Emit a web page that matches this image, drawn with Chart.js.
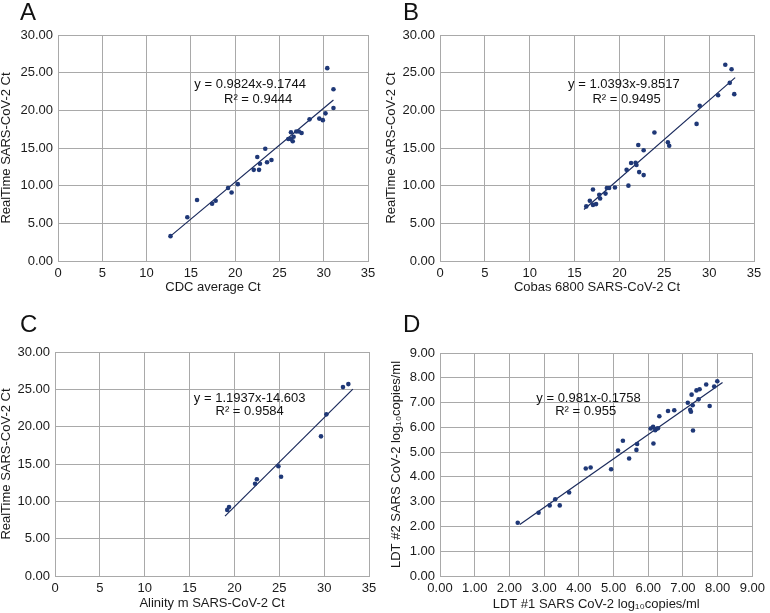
<!DOCTYPE html>
<html>
<head>
<meta charset="utf-8">
<script src="https://cdn.jsdelivr.net/npm/chart.js@4.4.1/dist/chart.umd.min.js"></script>
<style>
    body { margin: 0; background: #fff; }
    #wrap { position: relative; width: 770px; height: 613px; overflow: hidden; }
    #wrap canvas { position: absolute; }
    .letter { position: absolute; font: 24px "Liberation Sans", Arial, sans-serif; line-height: 24px; color: #111; }
</style>
</head>
<body>
<div id="wrap">
    <canvas id="chart-A" width="385" height="300" style="left:0;top:0"></canvas>
    <canvas id="chart-B" width="385" height="300" style="left:385px;top:0"></canvas>
    <canvas id="chart-C" width="385" height="313" style="left:0;top:300px"></canvas>
    <canvas id="chart-D" width="385" height="313" style="left:385px;top:300px"></canvas>
    <div class="letter" style="left:20px;top:0">A</div>
    <div class="letter" style="left:403px;top:0">B</div>
    <div class="letter" style="left:20px;top:312px">C</div>
    <div class="letter" style="left:403px;top:312px">D</div>
</div>
<script>
// Panel A: CDC average Ct vs RealTime
var cdcCt = [12.7, 14.6, 15.7, 17.4, 17.8, 19.2, 19.6, 20.3, 22.1, 22.7, 22.5, 22.8, 23.4, 23.6, 24.1, 26.0, 26.3, 26.5, 26.6, 26.3, 26.9, 27.2, 27.5, 28.4, 29.5, 29.9, 30.2, 30.4, 31.1, 31.1];
var realtimeA = [3.3, 5.8, 8.1, 7.6, 8.0, 9.7, 9.1, 10.2, 12.1, 12.1, 13.8, 12.9, 14.9, 13.1, 13.4, 16.2, 16.2, 15.9, 16.5, 17.1, 17.2, 17.2, 17.0, 18.8, 18.9, 18.7, 19.6, 25.6, 22.8, 20.3];
var fitA = [0.9824, -9.1744, 12.7, 31.1];   // slope, intercept, x from, x to
var eqA = ['y = 0.9824x-9.1744', 'R\u00b2 = 0.9444'];

// Panel B: Cobas 6800 vs RealTime
var cobasCt = [31.8, 32.5, 32.3, 32.8, 31.0, 28.95, 28.6, 23.9, 25.4, 25.55, 22.1, 22.7, 20.8, 21.3, 21.8, 21.9, 22.2, 22.7, 21.0, 19.5, 18.6, 18.85, 18.45, 17.75, 17.85, 17.05, 16.7, 16.3, 17.05, 17.4];
var realtimeB = [26.05, 25.45, 23.65, 22.15, 22.0, 20.6, 18.2, 17.05, 15.75, 15.3, 15.4, 14.7, 12.1, 13.0, 13.05, 12.75, 11.8, 11.4, 10.0, 9.75, 9.7, 9.7, 8.95, 8.8, 8.3, 9.5, 8.0, 7.25, 7.45, 7.55];
var fitB = [1.0393, -9.8517, 16.05, 32.9];
var eqB = ['y = 1.0393x-9.8517', 'R\u00b2 = 0.9495'];

// Panel C: Alinity m vs RealTime
var alinityCt = [19.2, 19.4, 22.3, 22.5, 24.9, 25.2, 29.65, 30.25, 32.1, 32.7];
var realtimeC = [8.85, 9.25, 12.35, 12.95, 14.7, 13.3, 18.7, 21.65, 25.3, 25.7];
var fitC = [1.1937, -14.603, 18.95, 33.2];
var eqC = ['y = 1.1937x-14.603', 'R\u00b2 = 0.9584'];

// Panel D: LDT #1 vs LDT #2 (log10 copies/ml)
var ldt1 = [2.24, 2.84, 3.16, 3.32, 3.45, 3.72, 4.2, 4.34, 4.93, 5.13, 5.27, 5.45, 5.66, 5.68, 6.15, 6.07, 6.14, 6.2, 6.24, 6.28, 6.32, 6.57, 6.75, 7.14, 7.21, 7.23, 7.25, 7.28, 7.29, 7.39, 7.48, 7.45, 7.67, 7.77, 7.9, 7.99];
var ldt2 = [2.15, 2.55, 2.85, 3.1, 2.85, 3.37, 4.34, 4.38, 4.31, 5.06, 5.46, 4.74, 5.09, 5.33, 5.35, 5.95, 6.02, 5.88, 5.94, 5.96, 6.45, 6.66, 6.69, 6.99, 6.71, 6.63, 7.32, 6.89, 5.87, 7.49, 7.54, 7.13, 7.73, 6.86, 7.65, 7.86];
var fitD = [0.981, -0.1758, 2.3, 8.14];
var eqD = ['y = 0.981x-0.1758', 'R\u00b2 = 0.955'];

var ctTicks = [0, 5, 10, 15, 20, 25, 30, 35];
var ctYTicks = [0, 5, 10, 15, 20, 25, 30];
var logTicks = [0, 1, 2, 3, 4, 5, 6, 7, 8, 9];

var FONT = '"Liberation Sans", Arial, sans-serif';
var dotColor = '#1f3877';
var lineColor = '#1a2a5c';
var gridColor = '#a9a9a9';

// draws the trendline equation text at data positions
var equationLabel = {
    id: 'equationLabel',
    afterDatasetsDraw: function(chart) {
        var eq = chart.options.plugins.equationLabel;
        var ctx = chart.ctx;
        ctx.save();
        ctx.font = '13px ' + FONT;
        ctx.fillStyle = '#111';
        ctx.textAlign = 'center';
        ctx.textBaseline = 'alphabetic';
        eq.lines.forEach(function(t, i) {
            var x = chart.scales.x.getPixelForValue(eq.at[i][0]);
            var y = chart.scales.y.getPixelForValue(eq.at[i][1]);
            ctx.fillText(t, x, y);
        });
        ctx.restore();
    }
};

function makePanel(id, xs, ys, fit, eq, eqAt, cfg) {
    var pts = xs.map(function(x, i) { return { x: x, y: ys[i] }; });
    var trend = [
        { x: fit[2], y: fit[0] * fit[2] + fit[1] },
        { x: fit[3], y: fit[0] * fit[3] + fit[1] }
    ];
    return new Chart(document.getElementById(id).getContext('2d'), {
        type: 'scatter',
        data: {
            datasets: [
                { data: pts, pointRadius: 2.3, pointBackgroundColor: dotColor, pointBorderWidth: 0, order: 1 },
                { type: 'line', data: trend, borderColor: lineColor, borderWidth: 1.2, pointRadius: 0, fill: false, order: 2 }
            ]
        },
        options: {
            responsive: false,
            animation: false,
            layout: { padding: { top: cfg.top, right: cfg.right, left: 0, bottom: 0 } },
            plugins: {
                legend: { display: false },
                tooltip: { enabled: false },
                equationLabel: { lines: eq, at: eqAt }
            },
            scales: {
                x: {
                    type: 'linear',
                    min: 0, max: cfg.xMax,
                    afterBuildTicks: function(s) { s.ticks = cfg.xTicks.map(function(v) { return { value: v }; }); },
                    afterFit: function(s) { s.height = cfg.xH; },
                    grid: { color: gridColor, lineWidth: 1, drawTicks: false },
                    border: { color: gridColor, width: 1 },
                    ticks: {
                        autoSkip: false, maxRotation: 0, padding: 5, color: '#1a1a1a',
                        font: { family: FONT, size: 13 },
                        callback: function(v) { return cfg.xFixed ? v.toFixed(2) : String(v); }
                    },
                    title: {
                        display: true, text: cfg.xTitle, color: '#1a1a1a',
                        font: { family: FONT, size: 13, lineHeight: 1 },
                        padding: { top: 0, bottom: cfg.xTitlePad }
                    }
                },
                y: {
                    type: 'linear',
                    min: 0, max: cfg.yMax,
                    afterBuildTicks: function(s) { s.ticks = cfg.yTicks.map(function(v) { return { value: v }; }); },
                    afterFit: function(s) { s.width = cfg.yW; },
                    grid: { color: gridColor, lineWidth: 1, drawTicks: false },
                    border: { color: gridColor, width: 1 },
                    ticks: {
                        autoSkip: false, padding: 5, color: '#1a1a1a',
                        font: { family: FONT, size: 13 },
                        callback: function(v) { return v.toFixed(2); }
                    },
                    title: {
                        display: true, text: cfg.yTitle, color: '#1a1a1a',
                        font: { family: FONT, size: 13, lineHeight: 1 },
                        padding: { top: cfg.yTitlePad, bottom: 0 }
                    }
                }
            }
        },
        plugins: [equationLabel]
    });
}

makePanel('chart-A', cdcCt, realtimeA, fitA, eqA, [[21.7, 22.9], [22.6, 21.0]], {
    top: 35, right: 17, yW: 58, xH: 39, xMax: 35, yMax: 30,
    xTicks: ctTicks, yTicks: ctYTicks, xFixed: false,
    xTitle: 'CDC average Ct', yTitle: 'RealTime SARS-CoV-2 Ct',
    xTitlePad: 6, yTitlePad: 0
});

makePanel('chart-B', cobasCt, realtimeB, fitB, eqB, [[20.5, 22.9], [20.8, 21.0]], {
    top: 35, right: 16, yW: 55, xH: 39, xMax: 35, yMax: 30,
    xTicks: ctTicks, yTicks: ctYTicks, xFixed: false,
    xTitle: 'Cobas 6800 SARS-CoV-2 Ct', yTitle: 'RealTime SARS-CoV-2 Ct',
    xTitlePad: 6, yTitlePad: 0
});

makePanel('chart-C', alinityCt, realtimeC, fitC, eqC, [[21.7, 23.3], [21.7, 21.5]], {
    top: 52, right: 16, yW: 55, xH: 37, xMax: 35, yMax: 30,
    xTicks: ctTicks, yTicks: ctYTicks, xFixed: false,
    xTitle: 'Alinity m SARS-CoV-2 Ct', yTitle: 'RealTime SARS-CoV-2 Ct',
    xTitlePad: 3, yTitlePad: 0
});

makePanel('chart-D', ldt1, ldt2, fitD, eqD, [[4.28, 7.03], [4.2, 6.49]], {
    top: 53, right: 16, yW: 55, xH: 37, xMax: 9, yMax: 9,
    xTicks: logTicks, yTicks: logTicks, xFixed: true,
    xTitle: 'LDT #1 SARS CoV-2 log\u2081\u2080copies/ml', yTitle: 'LDT #2 SARS CoV-2 log\u2081\u2080copies/ml',
    xTitlePad: 2, yTitlePad: 5
});
</script>
</body>
</html>
